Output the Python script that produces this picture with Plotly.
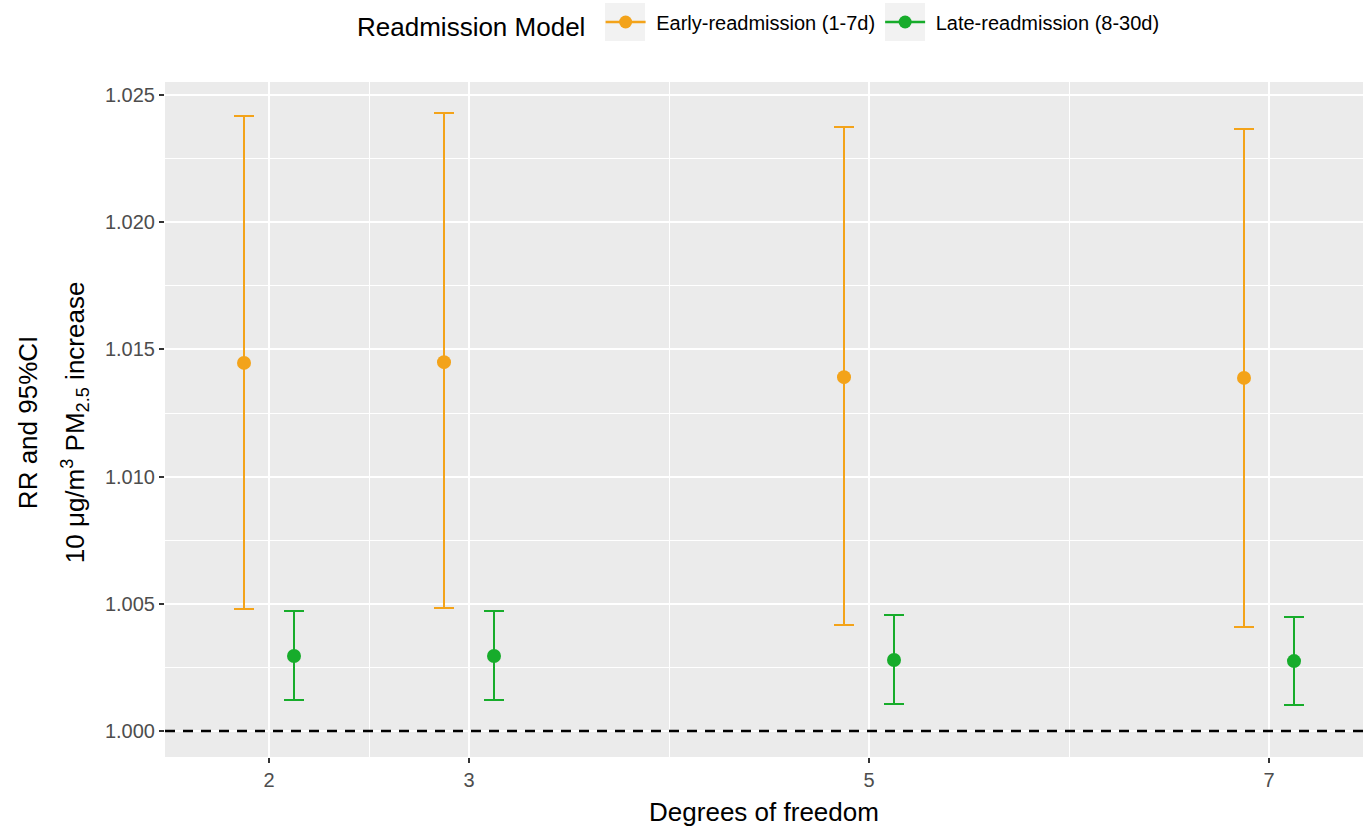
import plotly.graph_objects as go

# ---- data ----
dof = [2, 3, 5, 7]
groups = ["Early-readmission (1-7d)", "Late-readmission (8-30d)"]
early_rr = [1.01447, 1.01450, 1.01391, 1.01388]
early_lo = [1.00480, 1.00484, 1.00417, 1.00409]
early_hi = [1.02417, 1.02429, 1.02374, 1.02366]
late_rr = [1.00295, 1.00295, 1.00279, 1.00275]
late_lo = [1.00122, 1.00122, 1.00106, 1.00102]
late_hi = [1.00472, 1.00472, 1.00456, 1.00448]
ref_value = 1.0
x_ticks = [2, 3, 5, 7]
x_minor = [2.5, 4, 6]
y_ticks = [1.000, 1.005, 1.010, 1.015, 1.020, 1.025]
y_tick_text = ["1.000", "1.005", "1.010", "1.015", "1.020", "1.025"]
y_minor = [1.0025, 1.0075, 1.0125, 1.0175, 1.0225]
y_title_lines = ["RR and 95%CI", "10 μg/m<sup>3</sup> PM<sub>2.5</sub> increase"]

colors = ["#F3A31A", "#17AC2B"]
dodge = [-0.125, 0.125]
series = [(early_rr, early_lo, early_hi), (late_rr, late_lo, late_hi)]

FONT = "Liberation Sans, Arial, Helvetica, sans-serif"

fig = go.Figure()
for name, (rr, lo, hi), col, dx in zip(groups, series, colors, dodge):
    fig.add_trace(go.Scatter(
        x=[d + dx for d in dof], y=rr, mode="markers", name=name,
        marker=dict(color=col, size=14),
        error_y=dict(type="data", symmetric=False,
                     array=[h - r for h, r in zip(hi, rr)],
                     arrayminus=[r - l for r, l in zip(rr, lo)],
                     color=col, thickness=2, width=10),
        showlegend=False))
    fig.add_trace(go.Scatter(
        x=[None], y=[None], mode="lines+markers", name="\u00a0" + name,
        marker=dict(color=col, size=13), line=dict(color=col, width=2.5)))

fig.add_hline(y=ref_value, line=dict(color="black", width=2.5, dash="10px,8px"))

# light grey legend-key backgrounds (ggplot style)
for x0, x1 in [(0.3673, 0.4007), (0.6010, 0.6344)]:
    fig.add_shape(type="rect", xref="paper", yref="paper", x0=x0, x1=x1,
                  y0=1.0607, y1=1.1170, fillcolor="#F2F2F2", line_width=0, layer="below")

# two-line y-axis title as rotated annotations (wider line spacing as in reference)
for txt, xp in zip(y_title_lines, [-0.1144, -0.0751]):
    fig.add_annotation(text=txt, textangle=-90, xref="paper", yref="paper",
                       x=xp, y=0.496, xanchor="center", yanchor="middle",
                       showarrow=False, font=dict(size=26, color="black", family=FONT))

axis_font = dict(family=FONT, size=20, color="#4D4D4D")
fig.update_layout(
    width=1363, height=827,
    paper_bgcolor="white", plot_bgcolor="#EBEBEB",
    font=dict(family=FONT, color="black"),
    margin=dict(l=165, r=0, t=82, b=70),
    legend=dict(orientation="h", xanchor="center", x=0.4967, yref="container",
                y=0.997, yanchor="top", bgcolor="rgba(0,0,0,0)",
                title=dict(text="Readmission Model ", font=dict(size=26), side="left"),
                font=dict(size=20), itemwidth=40),
    xaxis=dict(range=[1.48, 7.47], tickvals=x_ticks, ticktext=[str(t) for t in x_ticks],
               showgrid=True, gridcolor="white", gridwidth=2,
               minor=dict(tickvals=x_minor, showgrid=True, gridcolor="white", gridwidth=1),
               ticks="outside", ticklen=5, tickwidth=1.5, tickcolor="#333333",
               tickfont=axis_font, zeroline=False,
               title=dict(text="Degrees of freedom", font=dict(size=26), standoff=12)),
    yaxis=dict(range=[0.99898, 1.02551], tickvals=y_ticks, ticktext=y_tick_text,
               showgrid=True, gridcolor="white", gridwidth=2,
               minor=dict(tickvals=y_minor, showgrid=True, gridcolor="white", gridwidth=1),
               ticks="outside", ticklen=5, tickwidth=1.5, tickcolor="#333333",
               tickfont=axis_font, zeroline=False),
)

fig.write_html("out.html", config={"displayModeBar": False},
               post_script="document.body.style.margin='0px';")
